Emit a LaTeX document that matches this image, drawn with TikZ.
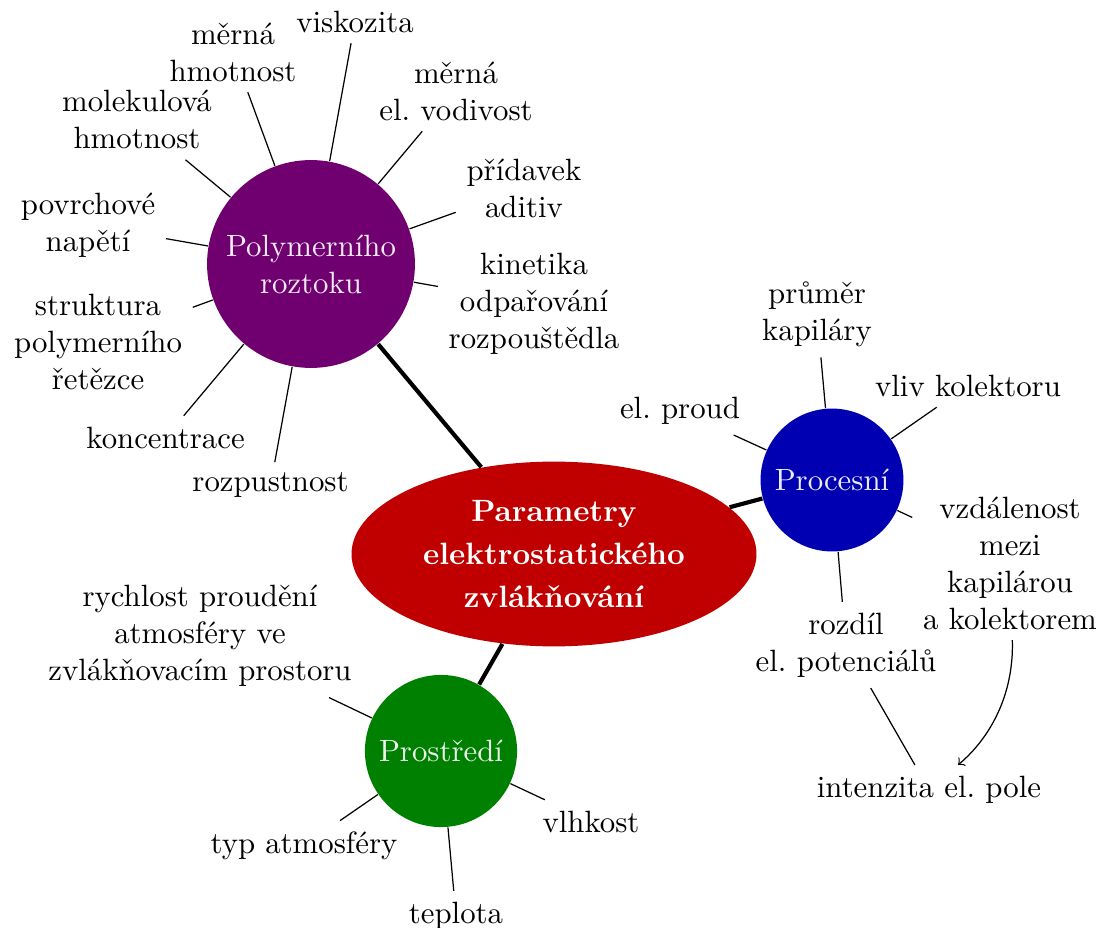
\documentclass[tikz,border=0pt]{standalone}
\usepackage{fontspec}
\usetikzlibrary{shapes.geometric}
\definecolor{cred}{RGB}{192,0,0}
\definecolor{cpurple}{RGB}{112,0,112}
\definecolor{cblue}{RGB}{0,0,178}
\definecolor{cgreen}{RGB}{0,128,0}
\begin{document}
\begin{tikzpicture}[x=0.3247pt,y=-0.3247pt,
  hub/.style={circle,inner sep=0pt,text=white,text opacity=0.92,align=center},
  leaf/.style={align=center},
  mainedge/.style={line width=1.35pt},
  twig/.style={line width=0.4pt},
  arr/.style={->,line width=0.4pt}]
\useasboundingbox (0,0) rectangle (1101,928);
% central node
\node[ellipse,fill=cred,minimum width=131.5pt,minimum height=60pt,inner sep=0pt,
      text=white,font=\bfseries,align=center] (c) at (554,554)
      {Parametry\\[2pt]elektrostatického\\[2pt]zvlákňování};
% hubs
\node[hub,fill=cpurple,minimum size=67.5pt] (poly) at (311,264) {Polymerního\\roztoku};
\node[hub,fill=cblue,minimum size=46.4pt] (proc) at (832,480) {Procesní};
\node[hub,fill=cgreen,minimum size=49.4pt] (pros) at (441,751) {Prostředí};
% leaves of Polymerního roztoku
\node[leaf] (visk) at (355,21.5) {viskozita};
\node[leaf] (mh) at (233,52) {měrná\\hmotnost};
\node[leaf] (molh) at (137,119.5) {molekulová\\hmotnost};
\node[leaf] (pov) at (88,225) {povrchové\\napětí};
\node[leaf] (str) at (98,342) {struktura\\polymerního\\řetězce};
\node[leaf] (konc) at (165.5,437.5) {koncentrace};
\node[leaf] (rozp) at (270.5,485.5) {rozpustnost};
\node[leaf] (mev) at (456,91) {měrná\\el.\ vodivost};
\node[leaf] (prid) at (524,188) {přídavek\\aditiv};
\node[leaf] (kin) at (534,303.5) {kinetika\\odpařování\\rozpouštědla};
% leaves of Procesní
\node[leaf] (prum) at (817,314) {průměr\\kapiláry};
\node[leaf] (vliv) at (968,385.5) {vliv kolektoru};
\node[leaf] (proud) at (680,410.5) {el.\ proud};
\node[leaf] (vzd) at (1010,563) {vzdálenost\\mezi\\kapilárou\\a kolektorem};
\node[leaf] (rozd) at (846,645) {rozdíl\\el.\ potenciálů};
\node[leaf] (int) at (929,789.5) {intenzita el.\ pole};
% leaves of Prostředí
\node[leaf] (rych) at (200,636) {rychlost proudění\\atmosféry ve\\zvlákňovacím prostoru};
\node[leaf] (typ) at (304,845.5) {typ atmosféry};
\node[leaf] (vlh) at (591,821.5) {vlhkost};
\node[leaf] (tep) at (456,915.5) {teplota};
% main connectors
\draw[mainedge] (c) -- (poly);
\draw[mainedge] (c) -- (proc);
\draw[mainedge] (c) -- (pros);
% twigs
\foreach \t in {visk,mh,molh,pov,str,konc,rozp,mev,prid,kin}
  \draw[twig] (poly) -- (\t);
\foreach \t in {prum,vliv,proud,vzd,rozd}
  \draw[twig] (proc) -- (\t);
\foreach \t in {rych,typ,vlh,tep}
  \draw[twig] (pros) -- (\t);
\draw[twig] (rozd) -- (int);
\draw[arr] (vzd) .. controls (1014,695) and (990,738) .. (int);
\end{tikzpicture}
\end{document}
